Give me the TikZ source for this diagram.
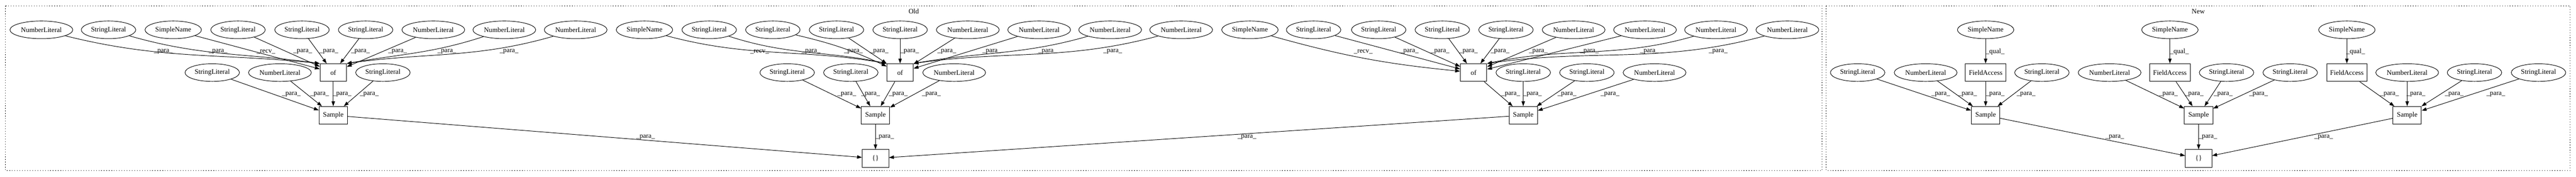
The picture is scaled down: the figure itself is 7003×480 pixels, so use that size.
\documentclass[tikz,border=0pt]{standalone}
\usepackage{fontspec}
\setmainfont{Liberation Serif}
\usetikzlibrary{shapes.geometric,arrows.meta}
\begin{document}
\begin{tikzpicture}[x=0.75pt,y=0.75pt,
  every node/.style={font=\fontsize{14pt}{16pt}\selectfont},
  ell/.style={draw, ellipse, line width=1pt, inner sep=0pt, minimum height=36pt},
  nl/.style={ell, minimum width=128pt},
  sl/.style={ell, minimum width=111pt},
  sn/.style={ell, minimum width=115pt},
  box/.style={draw, rectangle, line width=1pt, inner sep=0pt, minimum height=36pt, minimum width=54pt},
  smp/.style={box, minimum width=58pt},
  fa/.style={box, minimum width=82.5pt},
  lab/.style={inner sep=0pt},
  e/.style={line width=1pt, -{Triangle[length=10pt,width=7pt]}},
  clus/.style={line width=1pt, dash pattern=on 1.3pt off 3.9pt}
]
\fill[white] (0,0) rectangle (7003,480);
\useasboundingbox (0,0) rectangle (7003,480);
% clusters
\draw[clus] (15,464) rectangle (4953,17);
\draw[clus] (4965,464) rectangle (6987,17);
\node[lab] (oldlab) at (2484,449) {Old};
\node[lab] (newlab) at (5976,449) {New};

% ---------- Old: group 1
\node[nl] (a1) at (112.5,399) {NumberLiteral};
\node[sl] (a2) at (295,399) {StringLiteral};
\node[sn] (a3) at (471,399) {SimpleName};
\node[sl] (a4) at (647,399) {StringLiteral};
\node[sl] (a5) at (821,399) {StringLiteral};
\node[sl] (a6) at (994,399) {StringLiteral};
\node[nl] (a7) at (1178,399) {NumberLiteral};
\node[nl] (a8) at (1371,399) {NumberLiteral};
\node[nl] (a9) at (1565,399) {NumberLiteral};
\node[sl] (b1) at (577,283) {StringLiteral};
\node[nl] (b2) at (761,283) {NumberLiteral};
\node[box] (of1) at (906,283) {of};
\node[sl] (b3) at (1041,283) {StringLiteral};
\node[smp] (s1) at (906,167) {Sample};
\node[box] (r1) at (2380,50) {\{\}};

% ---------- Old: group 2
\node[sn] (c1) at (1752,399) {SimpleName};
\node[sl] (c2) at (1928,399) {StringLiteral};
\node[sl] (c3) at (2101,399) {StringLiteral};
\node[sl] (c4) at (2274,399) {StringLiteral};
\node[sl] (c5) at (2447,399) {StringLiteral};
\node[nl] (c6) at (2631,399) {NumberLiteral};
\node[nl] (c7) at (2825,399) {NumberLiteral};
\node[nl] (c8) at (3018,399) {NumberLiteral};
\node[nl] (c9) at (3211,399) {NumberLiteral};
\node[sl] (d1) at (2140,283) {StringLiteral};
\node[sl] (d2) at (2313,283) {StringLiteral};
\node[box] (of2) at (2447,283) {of};
\node[nl] (d3) at (2594,283) {NumberLiteral};
\node[smp] (s2) at (2380,167) {Sample};

% ---------- Old: group 3
\node[sn] (e1) at (3398,399) {SimpleName};
\node[sl] (e2) at (3571,399) {StringLiteral};
\node[sl] (e3) at (3748,399) {StringLiteral};
\node[sl] (e4) at (3921,399) {StringLiteral};
\node[sl] (e5) at (4094,399) {StringLiteral};
\node[nl] (e6) at (4278,399) {NumberLiteral};
\node[nl] (e7) at (4472,399) {NumberLiteral};
\node[nl] (e8) at (4665,399) {NumberLiteral};
\node[nl] (e9) at (4859,399) {NumberLiteral};
\node[box] (of3) at (4006,283) {of};
\node[sl] (f1) at (4141,283) {StringLiteral};
\node[sl] (f2) at (4314,283) {StringLiteral};
\node[nl] (f3) at (4498,283) {NumberLiteral};
\node[smp] (s3) at (4141,167) {Sample};

% ---------- New
\node[sn] (h1) at (5398,399) {SimpleName};
\node[sn] (h2) at (5899,399) {SimpleName};
\node[sn] (h3) at (6380,399) {SimpleName};
\node[sl] (i1) at (5050,283) {StringLiteral};
\node[nl] (i2) at (5235,283) {NumberLiteral};
\node[fa] (fa1) at (5398,283) {FieldAccess};
\node[sl] (i3) at (5551,283) {StringLiteral};
\node[nl] (j1) at (5735,283) {NumberLiteral};
\node[fa] (fa2) at (5899,283) {FieldAccess};
\node[sl] (j2) at (6053,283) {StringLiteral};
\node[sl] (j3) at (6226,283) {StringLiteral};
\node[fa] (fa3) at (6380,283) {FieldAccess};
\node[nl] (k1) at (6544,283) {NumberLiteral};
\node[sl] (k2) at (6727,283) {StringLiteral};
\node[sl] (k3) at (6901,283) {StringLiteral};
\node[smp] (s4) at (5398,167) {Sample};
\node[smp] (s5) at (5977,167) {Sample};
\node[smp] (s6) at (6544,167) {Sample};
\node[box] (r2) at (5977,50) {\{\}};

% ---------- edges group 1
\draw[e] (a1) to[out=-14,in=174] (of1.north west);
\draw[e] (a2) to[out=-16,in=172] (of1.north west);
\draw[e] (a3) -- (of1);
\draw[e] (a4) -- (of1);
\draw[e] (a5) -- (of1);
\draw[e] (a6) -- (of1);
\draw[e] (a7) -- (of1);
\draw[e] (a8) to[out=198,in=10] (of1.north east);
\draw[e] (a9) to[out=196,in=8] (of1.north east);
\draw[e] (b1) -- (s1);
\draw[e] (b2) -- (s1);
\draw[e] (of1) -- (s1);
\draw[e] (b3) -- (s1);
\draw[e] (s1) -- (r1);

% ---------- edges group 2
\draw[e] (c1) to[out=-15,in=170] (of2.north west);
\draw[e] (c2) to[out=-18,in=168] (of2.north west);
\draw[e] (c3) to[bend left=6] (of2);
\draw[e] (c4) -- (of2);
\draw[e] (c5) -- (of2);
\draw[e] (c6) -- (of2);
\draw[e] (c7) -- (of2);
\draw[e] (c8) to[out=196,in=10] (of2.north east);
\draw[e] (c9) to[out=195,in=8] (of2.north east);
\draw[e] (d1) -- (s2);
\draw[e] (d2) -- (s2);
\draw[e] (of2) -- (s2);
\draw[e] (d3) -- (s2);
\draw[e] (s2) -- (r1);

% ---------- edges group 3
\draw[e] (e1) to[bend right=5] (of3);
\draw[e] (e2) -- (of3);
\draw[e] (e3) -- (of3);
\draw[e] (e4) -- (of3);
\draw[e] (e5) -- (of3);
\draw[e] (e6) -- (of3);
\draw[e] (e7) -- (of3);
\draw[e] (e8) to[out=196,in=12] (of3.north east);
\draw[e] (e9) to[out=195,in=8] (of3.north east);
\draw[e] (of3) -- (s3);
\draw[e] (f1) -- (s3);
\draw[e] (f2) -- (s3);
\draw[e] (f3) -- (s3);
\draw[e] (s3) -- (r1);

% ---------- edges new
\draw[e] (h1) -- (fa1);
\draw[e] (h2) -- (fa2);
\draw[e] (h3) -- (fa3);
\draw[e] (i1) -- (s4);
\draw[e] (i2) -- (s4);
\draw[e] (fa1) -- (s4);
\draw[e] (i3) -- (s4);
\draw[e] (j1) -- (s5);
\draw[e] (fa2) -- (s5);
\draw[e] (j2) -- (s5);
\draw[e] (j3) -- (s5);
\draw[e] (fa3) -- (s6);
\draw[e] (k1) -- (s6);
\draw[e] (k2) -- (s6);
\draw[e] (k3) -- (s6);
\draw[e] (s4) -- (r2);
\draw[e] (s5) -- (r2);
\draw[e] (s6) -- (r2);

% ---------- edge labels
\foreach \x [count=\i] in {444,593,823,894,980,1081,1215,1384,2205,2320,2390,2473,2574,2696,2848,3025,3831,3915,3992,4078,4182,4321,4484,4671}
  \node[lab] (pt\i) at (\x,340) {\_para\_};
\foreach \x [count=\i] in {723,2065,3706}
  \node[lab] (rv\i) at (\x,340) {\_recv\_};
\foreach \x [count=\i] in {5424,5925,6404}
  \node[lab] (ql\i) at (\x,340) {\_qual\_};
\foreach \x [count=\i] in {792,869,930,1004,2302,2367,2442,2532,4107,4166,4260,4377,5276,5349,5424,5508,5895,5965,6044,6140,6496,6568,6672,6785}
  \node[lab] (pm\i) at (\x,224) {\_para\_};
\foreach \x [count=\i] in {1755,2405,3390,5749,6002,6317}
  \node[lab] (pb\i) at (\x,108) {\_para\_};
\end{tikzpicture}
\end{document}
